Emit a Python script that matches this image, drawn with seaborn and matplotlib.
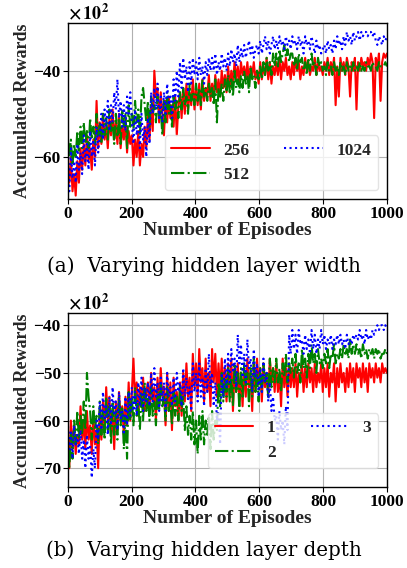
import matplotlib
matplotlib.use('Agg')
import matplotlib.pyplot as plt
import seaborn as sns
import numpy as np

# Rewards in units of 100, sampled every ~5 episodes (0..1000)
width_256 = [
    -62, -66, -60, -68, -64, -69, -61, -66, -58, -63,
    -57, -62, -55, -61, -58, -63, -56, -60, -47, -58,
    -52, -57, -50, -56, -53, -58, -51, -55, -49, -56,
    -52, -57, -50, -58, -53, -56, -51, -59, -54, -57,
    -55, -62, -56, -60, -54, -62, -57, -60, -53, -58,
    -50, -56, -48, -54, -40, -46, -44, -52, -45, -50,
    -55, -47, -52, -46, -51, -48, -53, -46, -55, -48,
    -45, -51, -44, -50, -43, -49, -45, -48, -42, -49,
    -44, -48, -43, -49, -42, -47, -44, -46, -41, -47,
    -43, -46, -41, -45, -42, -46, -40, -44, -41, -45,
    -39, -44, -40, -43, -38, -42, -39, -43, -38, -41,
    -39, -42, -38, -43, -39, -41, -38, -42, -40, -43,
    -38, -42, -39, -41, -37, -42, -38, -43, -39, -41,
    -38, -41, -37, -42, -38, -40, -37, -41, -39, -42,
    -38, -41, -37, -40, -38, -42, -39, -41, -37, -40,
    -38, -41, -39, -40, -37, -41, -38, -40, -39, -41,
    -38, -40, -37, -41, -38, -40, -37, -48, -39, -46,
    -37, -40, -38, -41, -37, -39, -46, -38, -40, -37,
    -49, -38, -40, -37, -39, -38, -40, -37, -39, -36,
    -38, -51, -37, -39, -36, -47, -38, -36, -37, -36,
]
width_512 = [
    -55, -60, -56, -62, -57, -60, -54, -59, -53, -58,
    -52, -57, -54, -58, -51, -56, -53, -57, -50, -55,
    -52, -57, -50, -55, -51, -56, -49, -54, -52, -57,
    -50, -55, -51, -57, -49, -53, -50, -58, -48, -53,
    -50, -54, -47, -52, -49, -55, -46, -44, -48, -52,
    -47, -53, -46, -50, -48, -52, -46, -51, -49, -55,
    -47, -52, -45, -50, -48, -53, -46, -49, -47, -51,
    -45, -49, -44, -48, -46, -50, -43, -47, -45, -48,
    -43, -47, -44, -48, -42, -46, -44, -47, -43, -46,
    -44, -48, -42, -52, -44, -46, -43, -47, -42, -45,
    -41, -45, -42, -46, -40, -44, -42, -45, -41, -44,
    -40, -43, -41, -45, -39, -42, -41, -44, -40, -42,
    -39, -42, -38, -41, -37, -40, -38, -41, -36, -39,
    -36, -39, -35, -38, -36, -34, -37, -35, -38, -36,
    -36, -39, -37, -40, -36, -38, -37, -40, -38, -41,
    -37, -40, -36, -39, -38, -41, -37, -39, -38, -40,
    -39, -41, -38, -40, -39, -41, -38, -40, -39, -41,
    -38, -40, -39, -41, -38, -40, -39, -40, -38, -40,
    -39, -40, -38, -40, -39, -40, -38, -39, -39, -40,
    -38, -39, -39, -40, -38, -39, -39, -39, -38, -39,
]
width_1024 = [
    -60, -68, -58, -65, -61, -66, -57, -63, -59, -64,
    -55, -61, -57, -63, -54, -60, -56, -62, -53, -59,
    -55, -50, -56, -49, -53, -47, -54, -48, -52, -45,
    -49, -42, -51, -47, -53, -48, -54, -46, -50, -45,
    -52, -57, -49, -55, -51, -58, -50, -56, -53, -60,
    -51, -57, -45, -50, -44, -49, -43, -51, -46, -52,
    -45, -50, -43, -48, -46, -51, -42, -47, -40, -46,
    -38, -44, -37, -42, -39, -45, -38, -43, -37, -41,
    -38, -42, -37, -41, -39, -43, -38, -41, -37, -40,
    -37, -40, -36, -41, -38, -40, -36, -39, -37, -40,
    -36, -39, -35, -38, -36, -39, -34, -38, -35, -37,
    -34, -37, -35, -33, -36, -34, -37, -35, -34, -36,
    -33, -36, -34, -32, -35, -33, -36, -34, -32, -35,
    -33, -35, -32, -34, -33, -35, -32, -34, -33, -35,
    -32, -34, -33, -35, -32, -34, -33, -36, -32, -34,
    -33, -35, -32, -34, -36, -33, -35, -34, -36, -35,
    -34, -36, -33, -35, -34, -36, -33, -35, -32, -34,
    -33, -35, -32, -34, -31, -33, -32, -34, -31, -33,
    -32, -31, -33, -31, -32, -31, -31, -32, -31, -31,
    -32, -31, -33, -34, -32, -33, -34, -32, -33, -32,
]
depth_1 = [
    -62, -70, -60, -66, -61, -67, -63, -65, -57, -64,
    -60, -66, -58, -64, -61, -67, -59, -65, -62, -70,
    -58, -64, -56, -62, -53, -60, -55, -63, -58, -66,
    -56, -62, -54, -60, -57, -63, -55, -61, -52, -60,
    -54, -47, -56, -52, -59, -53, -57, -51, -58, -54,
    -52, -58, -50, -56, -53, -60, -51, -57, -49, -55,
    -53, -61, -50, -58, -52, -62, -51, -57, -54, -60,
    -52, -59, -50, -56, -48, -55, -51, -58, -46, -53,
    -48, -55, -45, -52, -49, -56, -47, -54, -50, -57,
    -45, -52, -46, -55, -48, -54, -47, -53, -49, -56,
    -48, -55, -47, -58, -49, -54, -48, -56, -50, -57,
    -49, -55, -47, -53, -50, -58, -48, -54, -47, -52,
    -49, -56, -48, -53, -50, -55, -47, -52, -49, -54,
    -48, -54, -50, -57, -47, -53, -49, -55, -48, -53,
    -49, -53, -48, -55, -50, -52, -48, -54, -49, -53,
    -48, -52, -49, -54, -48, -53, -50, -52, -48, -54,
    -49, -53, -48, -55, -50, -52, -48, -56, -49, -53,
    -48, -52, -50, -54, -49, -53, -48, -52, -49, -54,
    -48, -51, -49, -53, -48, -52, -49, -54, -48, -51,
    -49, -52, -48, -51, -49, -52, -48, -50, -49, -50,
]
depth_2 = [
    -62, -70, -63, -68, -60, -65, -58, -64, -59, -63,
    -56, -62, -50, -55, -58, -64, -57, -62, -59, -65,
    -56, -63, -58, -64, -55, -62, -57, -65, -56, -63,
    -58, -64, -55, -61, -57, -66, -59, -68, -54, -60,
    -55, -61, -53, -59, -56, -62, -54, -60, -52, -58,
    -55, -60, -53, -59, -56, -61, -54, -58, -52, -57,
    -55, -60, -53, -58, -56, -61, -54, -59, -55, -60,
    -53, -58, -55, -62, -57, -63, -59, -64, -58, -65,
    -60, -67, -59, -64, -58, -65, -60, -63, -59, -66,
    -58, -64, -60, -62, -52, -57, -50, -56, -51, -55,
    -49, -56, -51, -57, -48, -54, -50, -58, -49, -55,
    -48, -53, -50, -57, -49, -55, -47, -54, -50, -56,
    -49, -54, -48, -52, -50, -55, -47, -53, -49, -52,
    -47, -52, -49, -54, -48, -51, -46, -52, -48, -50,
    -47, -51, -46, -50, -48, -52, -45, -49, -47, -51,
    -46, -49, -44, -48, -46, -50, -45, -48, -47, -49,
    -46, -48, -45, -49, -46, -47, -44, -48, -46, -47,
    -45, -47, -44, -46, -45, -47, -43, -46, -44, -46,
    -44, -46, -45, -47, -44, -46, -45, -47, -45, -46,
    -45, -47, -45, -46, -45, -47, -46, -46, -45, -46,
]
depth_3 = [
    -60, -66, -62, -68, -61, -65, -63, -67, -62, -68,
    -64, -70, -63, -68, -65, -72, -66, -70, -60, -64,
    -56, -62, -54, -60, -57, -63, -55, -61, -53, -59,
    -56, -62, -54, -60, -58, -63, -55, -61, -54, -59,
    -53, -58, -54, -59, -52, -57, -51, -58, -53, -56,
    -52, -57, -50, -56, -49, -55, -52, -58, -51, -56,
    -52, -58, -50, -55, -53, -57, -51, -56, -50, -54,
    -52, -57, -49, -55, -51, -56, -53, -58, -48, -54,
    -50, -56, -48, -55, -51, -57, -49, -54, -46, -53,
    -50, -57, -52, -60, -58, -65, -50, -55, -47, -53,
    -46, -52, -45, -50, -47, -53, -42, -48, -44, -51,
    -46, -52, -43, -49, -47, -54, -45, -51, -48, -55,
    -49, -54, -47, -52, -50, -56, -52, -58, -55, -60,
    -59, -64, -58, -62, -60, -65, -57, -62, -42, -46,
    -41, -45, -42, -46, -41, -44, -43, -46, -42, -45,
    -43, -46, -41, -45, -42, -46, -43, -45, -41, -44,
    -42, -45, -43, -44, -42, -45, -43, -44, -42, -44,
    -42, -44, -43, -45, -42, -44, -43, -44, -42, -43,
    -42, -43, -41, -43, -42, -44, -41, -43, -42, -43,
    -41, -42, -41, -40, -41, -40, -40, -41, -40, -41,
]

width_labels = ['256', '512', '1024']
depth_labels = ['1', '2', '3']
colors = ['red', 'green', 'blue']
styles = ['-', '-.', ':']
x_ticks = [0, 200, 400, 600, 800, 1000]

sns.set_theme(style="ticks")
plt.rcParams['font.family'] = ['Liberation Serif', 'DejaVu Serif']
plt.rcParams['font.weight'] = 'bold'
plt.rcParams['axes.labelweight'] = 'bold'
plt.rcParams['mathtext.fontset'] = 'stix'

SERIF = 'Liberation Serif'
fig = plt.figure(figsize=(4.07, 5.68), dpi=100)
ax1 = fig.add_axes([0.1663, 0.6496, 0.7845, 0.31])
ax2 = fig.add_axes([0.1663, 0.1421, 0.7845, 0.3063])


def draw(ax, series, labels, ylim, yticks, legend_anchor):
    n = len(series[0])
    episodes = np.linspace(0, 1000, n)
    for vals, lab, c, ls in zip(series, labels, colors, styles):
        sns.lineplot(x=episodes, y=np.array(vals) * 100, color=c, linestyle=ls,
                     linewidth=1.5, label=lab, ax=ax)
    ax.set_xlim(0, 1000)
    ax.set_ylim(ylim[0] * 100, ylim[1] * 100)
    tick_font = dict(fontfamily=SERIF, fontweight='bold', fontsize=12.5)
    ax.set_xticks(x_ticks, labels=[str(t) for t in x_ticks], **tick_font)
    ax.set_yticks([t * 100 for t in yticks],
                  labels=[f'\u2212{abs(t)}' for t in yticks], **tick_font)
    ax.grid(True, color='#b0b0b0', linewidth=0.8)
    for s in ax.spines.values():
        s.set_color('black')
        s.set_linewidth(1.0)
    ax.tick_params(length=3.5, width=0.8, colors='black', pad=1.5)
    # scale marker for the y axis (values shown in hundreds)
    ax.text(0.0, 1.0, r'$\times\,\mathbf{10^{2}}$', transform=ax.transAxes,
            fontsize=13, ha='left', va='bottom', color='black')
    ax.set_xlabel('Number of Episodes', fontsize=14, fontweight='bold',
                  fontfamily=SERIF, labelpad=0)
    ax.set_ylabel('Accumulated Rewards', fontsize=13, fontweight='bold',
                  fontfamily=SERIF, labelpad=2)
    ax.legend(loc='lower right', bbox_to_anchor=legend_anchor, ncol=2,
              prop={'family': SERIF, 'weight': 'bold', 'size': 12.5},
              handlelength=2.2, framealpha=0.8, edgecolor='#dddddd')


draw(ax1, [width_256, width_512, width_1024], width_labels, (-69.8, -28.9), [-40, -60], (1, 0))
draw(ax2, [depth_1, depth_2, depth_3], depth_labels, (-74.0, -37.5), [-40, -50, -60, -70], (1, 0.06))

fig.text(0.5, 1 - 266 / 568, '(a)  Varying hidden layer width', ha='center', va='center',
         fontsize=14.3, fontweight='normal', family='DejaVu Serif', color='black')
fig.text(0.5, 1 - 550 / 568, '(b)  Varying hidden layer depth', ha='center', va='center',
         fontsize=14.3, fontweight='normal', family='DejaVu Serif', color='black')

fig.savefig('out.png', dpi=100)
